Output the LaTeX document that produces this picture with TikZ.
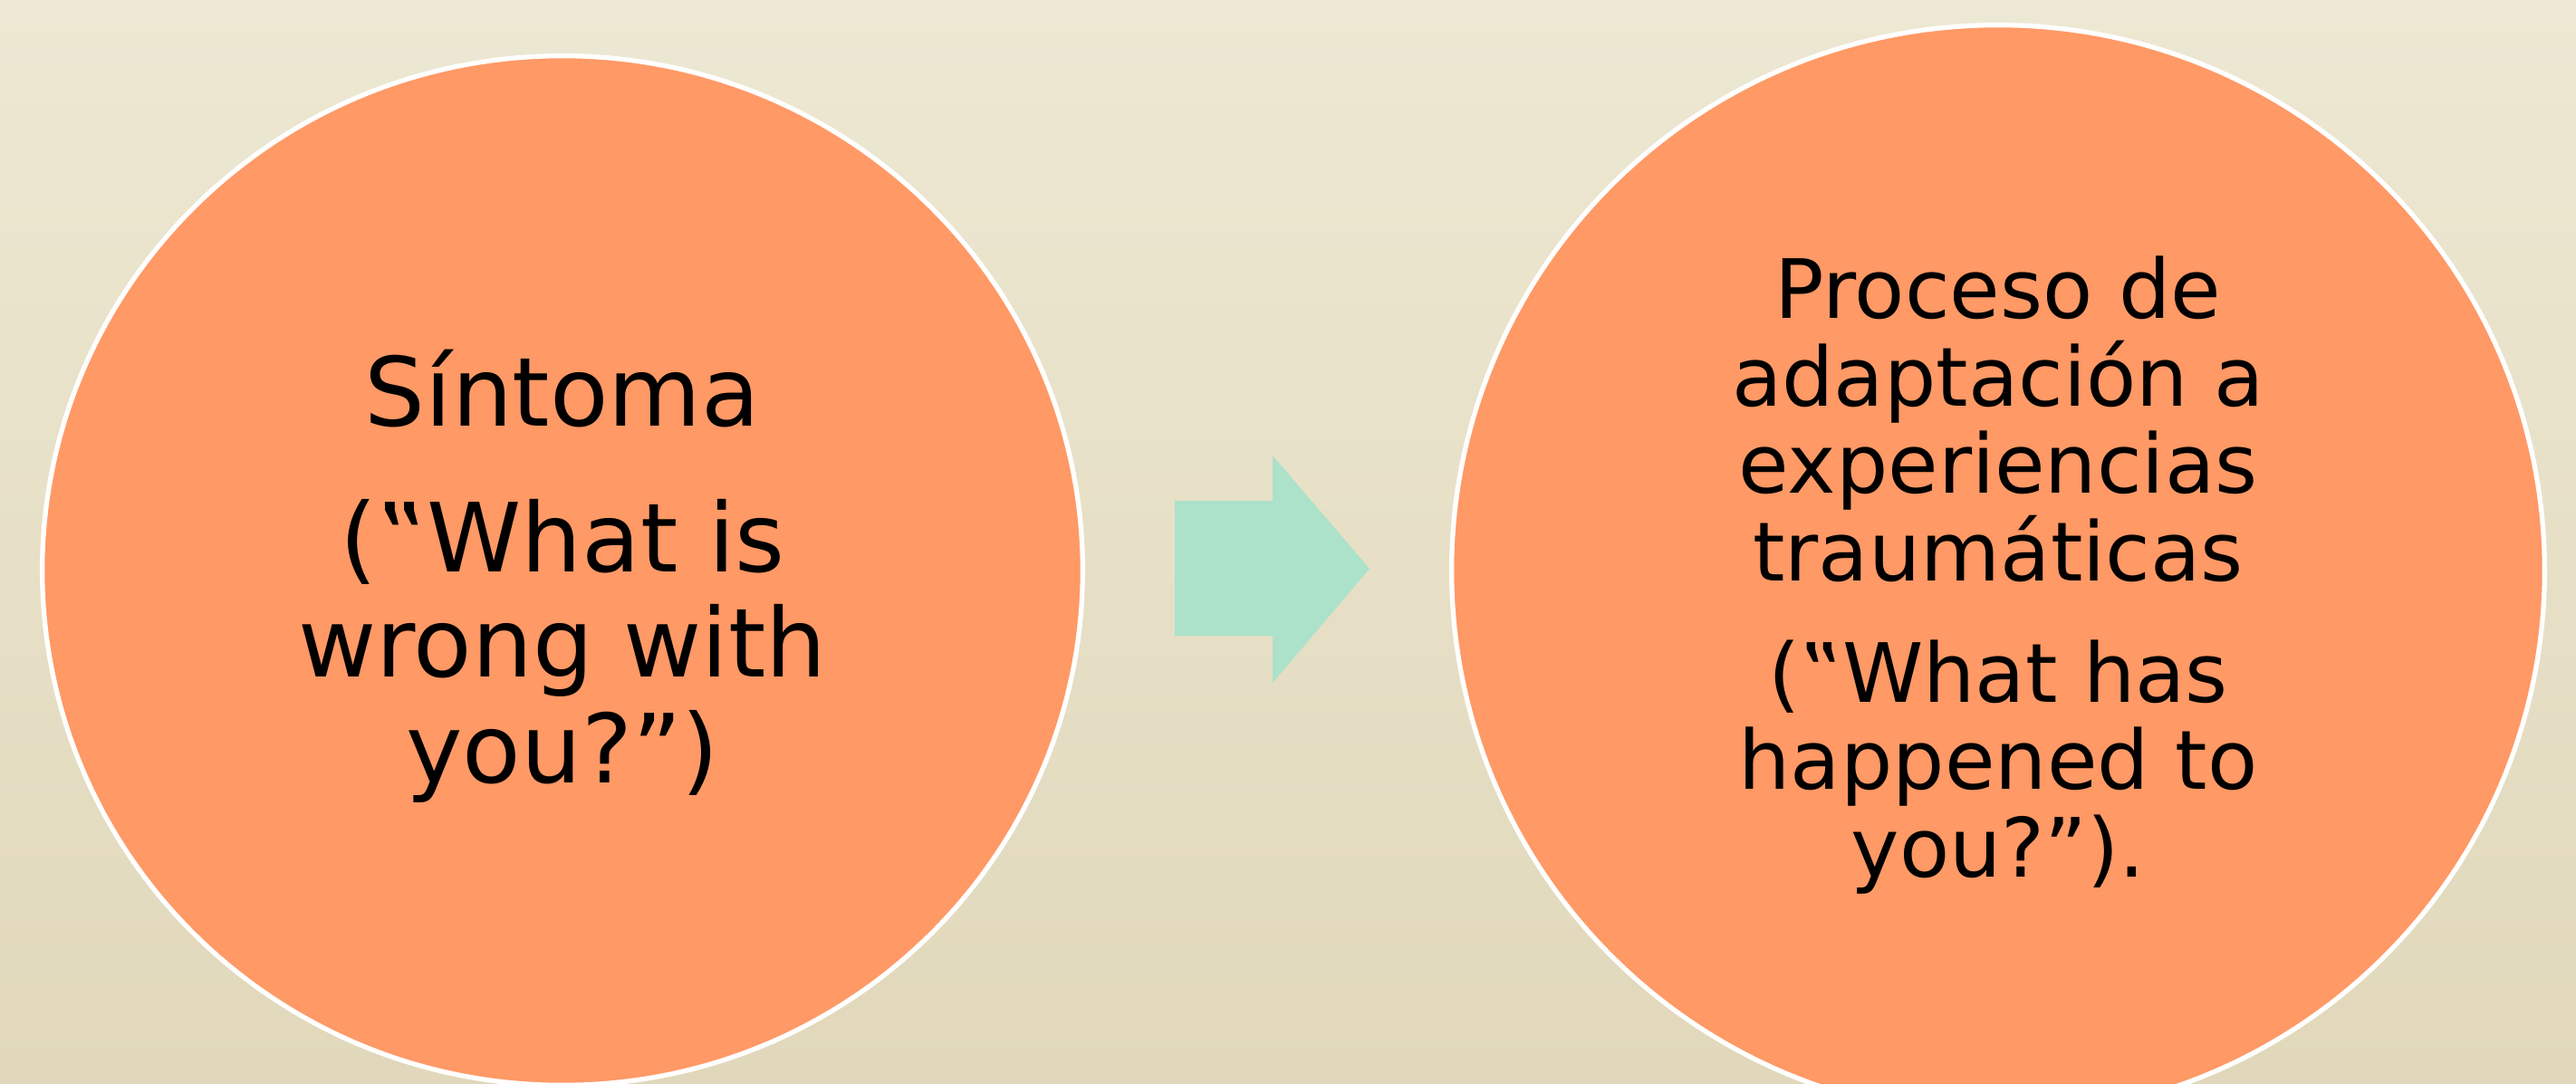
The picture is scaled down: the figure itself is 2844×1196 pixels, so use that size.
\documentclass[tikz,border=0pt]{standalone}
\usepackage{fontspec}
\setmainfont{DejaVu Sans}
\usetikzlibrary{shapes.geometric}
\definecolor{bgtop}{RGB}{237,232,211}
\definecolor{bgbot}{RGB}{225,216,187}
\definecolor{circfill}{RGB}{255,153,102}
\definecolor{arrowfill}{RGB}{171,226,201}
\tikzset{
  bubble/.style={ellipse, draw=white, line width=1.5pt, fill=circfill, inner sep=0pt},
  bigtext/.style={align=center, inner sep=0pt, text=black, font=\fontsize{30}{33.1}\selectfont},
  smalltext/.style={align=center, inner sep=0pt, text=black, font=\fontsize{25.7}{27.45}\selectfont},
}
\begin{document}
\begin{tikzpicture}[x=0.01cm,y=-0.01cm]
  \shade[top color=bgtop, bottom color=bgbot] (0,0) rectangle (2844,1196);
  \useasboundingbox (0,0) rectangle (2844,1196);
  \begin{scope}
    \clip (0,0) rectangle (2844,1196);
    \node[bubble, minimum width=11.48cm, minimum height=11.36cm] (left) at (621,630) {};
    \node[bubble, minimum width=12.06cm, minimum height=12.04cm] (right) at (2206,630) {};
  \end{scope}
  \node[bigtext] (lefttext) at (621,636) {Síntoma\\[12.7pt](‟What is\\wrong with\\you?”)};
  \node[smalltext] (righttext) at (2206,635) {Proceso de\\adaptación a\\experiencias\\traumáticas\hspace*{0.32em}\\[10.7pt](‟What has\\happened to\\you?”).};
  \coordinate (a1) at (1297,553);
  \coordinate (a2) at (1405,553);
  \coordinate (a3) at (1405,503);
  \coordinate (tip) at (1512,628);
  \coordinate (a5) at (1405,754);
  \coordinate (a6) at (1405,702);
  \coordinate (a7) at (1297,702);
  \fill[arrowfill] (a1) -- (a2) -- (a3) -- (tip) -- (a5) -- (a6) -- (a7) -- cycle;
\end{tikzpicture}
\end{document}
